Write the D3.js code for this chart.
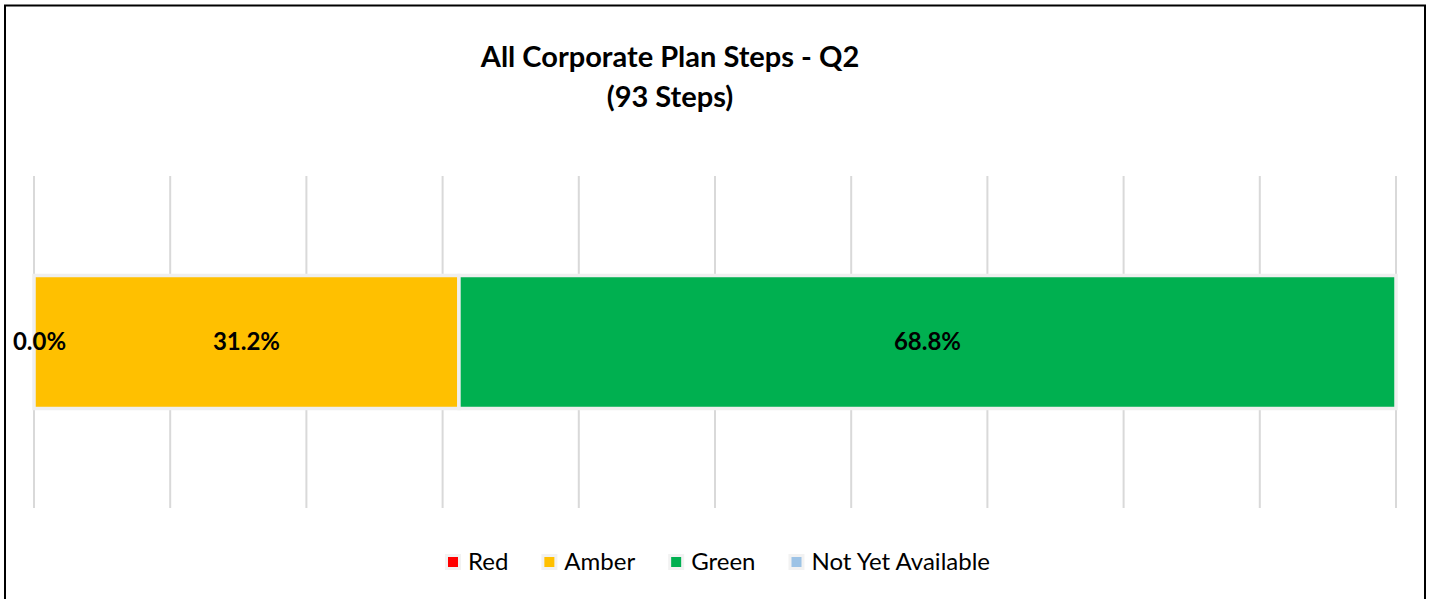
<!DOCTYPE html>
<html>
<head>
<meta charset="utf-8">
<script src="https://cdn.jsdelivr.net/npm/d3@7/dist/d3.min.js"></script>
<style>
  html, body { margin: 0; padding: 0; background: #ffffff; }
  svg { display: block; }
</style>
</head>
<body>
<svg id="chart" width="1434" height="599"></svg>
<script>
// ---- data ----
const categories = ["All Corporate Plan Steps"];
const seriesNames = ["Red", "Amber", "Green", "Not Yet Available"];
const seriesColors = ["#ff0000", "#ffc000", "#00b050", "#9dc3e6"];
const seriesValues = [0.0, 0.312, 0.688, 0.0];
const tickValues = [0, 0.1, 0.2, 0.3, 0.4, 0.5, 0.6, 0.7, 0.8, 0.9, 1.0];
const titleLines = ["All Corporate Plan Steps - Q2", "(93 Steps)"];

// ---- layout ----
const svg = d3.select("#chart");
const font = "Lato, 'Open Sans', sans-serif";

// frame
svg.append("rect")
  .attr("x", 5).attr("y", 5.5).attr("width", 1420).attr("height", 620)
  .attr("fill", "#fff").attr("stroke", "#000").attr("stroke-width", 2);

const x = d3.scaleLinear().domain([0, 1]).range([34, 1396]);
const y = d3.scaleBand().domain(categories).range([176, 508]).paddingInner(0).paddingOuter(0.748);

// gridlines
svg.append("g")
  .selectAll("line").data(tickValues).join("line")
  .attr("x1", d => x(d)).attr("x2", d => x(d))
  .attr("y1", 176).attr("y2", 508)
  .attr("stroke", "#d9d9d9").attr("stroke-width", 2);

// stacked data
const stacked = [];
let acc = 0;
seriesValues.forEach((v, i) => {
  stacked.push({ name: seriesNames[i], color: seriesColors[i], v, x0: acc, x1: acc + v });
  acc += v;
});

const barY = y(categories[0]);
const barH = y.bandwidth();

svg.append("g")
  .selectAll("rect").data(stacked.filter(d => d.v > 0)).join("rect")
  .attr("x", d => x(d.x0)).attr("width", d => x(d.x1) - x(d.x0))
  .attr("y", barY).attr("height", barH)
  .attr("fill", d => d.color)
  .attr("stroke", "#efefef").attr("stroke-width", 3.5);

// labels (first three series have labels in the reference)
const labelled = stacked.slice(0, 3);
svg.append("g")
  .selectAll("text").data(labelled).join("text")
  .attr("x", d => (x(d.x0) + x(d.x1)) / 2 + (d.v === 0 ? 5.5 : 0))
  .attr("y", barY + barH / 2)
  .attr("dy", "0.35em")
  .attr("text-anchor", "middle")
  .attr("font-family", font).attr("font-weight", "bold").attr("font-size", 24)
  .attr("fill", "#000")
  .text(d => d3.format(".1%")(d.v));

// title
const title = svg.append("text")
  .attr("text-anchor", "middle")
  .attr("font-family", font).attr("font-weight", "bold").attr("font-size", 29)
  .attr("fill", "#000");
titleLines.forEach((t, i) => {
  title.append("tspan").attr("x", 670).attr("y", 67 + i * 40).text(t);
});

// legend
const legend = svg.append("g");
const items = legend.selectAll("g").data(seriesNames).join("g");
items.append("rect")
  .attr("x", -3).attr("y", -8).attr("width", 16).attr("height", 16)
  .attr("fill", "#f2f2f2");
items.append("rect")
  .attr("x", 0).attr("y", -5).attr("width", 10).attr("height", 10)
  .attr("fill", (d, i) => seriesColors[i]);
items.append("text")
  .attr("x", 20).attr("y", 0).attr("dy", "0.35em")
  .attr("font-family", font).attr("font-size", 24).attr("fill", "#000")
  .text(d => d);
const widths = [];
items.each(function () {
  const tw = d3.select(this).select("text").node().getComputedTextLength();
  widths.push(20 + tw);
});
const gap = 36;
const total = d3.sum(widths) + gap * (widths.length - 1);
let start = 719 - total / 2;
items.attr("transform", (d, i) => {
  const t = `translate(${start},562)`;
  start += widths[i] + gap;
  return t;
});
</script>
</body>
</html>
